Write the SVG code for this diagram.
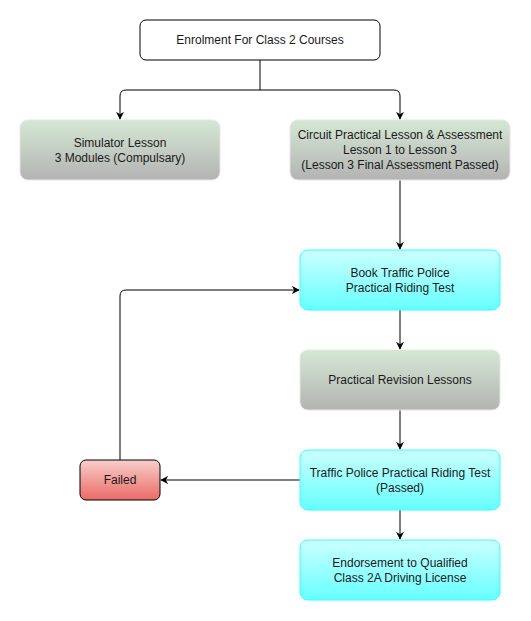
<svg xmlns="http://www.w3.org/2000/svg" width="531" height="621" viewBox="0 0 531 621">
<style>
text{font-family:"Liberation Sans",Arial,sans-serif;font-size:12px;fill:#1a1a1a;text-anchor:middle}
.e{fill:none;stroke:#000;stroke-width:1}
.g{fill:url(#gg);stroke:#e6e6e6;stroke-width:1}
.c{fill:url(#cg);stroke:#33ffff;stroke-width:1}
</style>
<defs>
<linearGradient id="gg" x1="0" y1="0" x2="0" y2="1"><stop offset="0" stop-color="#d5e8d4"/><stop offset="1" stop-color="#b3b3b3"/></linearGradient>
<linearGradient id="cg" x1="0" y1="0" x2="0" y2="1"><stop offset="0" stop-color="#ccffff"/><stop offset="1" stop-color="#66ffff"/></linearGradient>
<linearGradient id="rg" x1="0" y1="0" x2="0" y2="1"><stop offset="0" stop-color="#f8cecc"/><stop offset="1" stop-color="#ea6b66"/></linearGradient>
<marker id="a" viewBox="0 0 10 10" refX="9" refY="5" markerWidth="8" markerHeight="8" markerUnits="userSpaceOnUse" orient="auto"><path d="M0,0 L10,5 L0,10 L3,5 Z" fill="#000"/></marker>
</defs>
<g id="connectors">
<path class="e" d="M260,60 V90 H126 Q120,90 120,96 V119" marker-end="url(#a)"/>
<path class="e" d="M260,90 H394 Q400,90 400,96 V119" marker-end="url(#a)"/>
<path class="e" d="M400,180 V249" marker-end="url(#a)"/>
<path class="e" d="M400,310 V349" marker-end="url(#a)"/>
<path class="e" d="M400,410 V449" marker-end="url(#a)"/>
<path class="e" d="M400,510 V539" marker-end="url(#a)"/>
<path class="e" d="M300,480 H161" marker-end="url(#a)"/>
<path class="e" d="M120,460 V296 Q120,290 126,290 H299" marker-end="url(#a)"/>
</g>
<g id="enrol"><rect x="140" y="20" width="240" height="40" rx="6" fill="#fff" stroke="#000"/><text x="260" y="44">Enrolment For Class 2 Courses</text></g>
<g id="simulator"><rect class="g" x="20" y="120" width="200" height="60" rx="8"/><text x="120" y="147">Simulator Lesson</text><text x="120" y="162">3 Modules (Compulsary)</text></g>
<g id="circuit"><rect class="g" x="290" y="120" width="220" height="60" rx="8"/><text x="400" y="139">Circuit Practical Lesson &amp; Assessment</text><text x="400" y="154">Lesson 1 to Lesson 3</text><text x="400" y="169">(Lesson 3 Final Assessment Passed)</text></g>
<g id="book"><rect class="c" x="300" y="250" width="200" height="60" rx="8"/><text x="400" y="277">Book Traffic Police</text><text x="400" y="292">Practical Riding Test</text></g>
<g id="revision"><rect class="g" x="300" y="350" width="200" height="60" rx="8"/><text x="400" y="384">Practical Revision Lessons</text></g>
<g id="test"><rect class="c" x="300" y="450" width="200" height="60" rx="8"/><text x="400" y="477">Traffic Police Practical Riding Test</text><text x="400" y="492">(Passed)</text></g>
<g id="endorse"><rect class="c" x="300" y="540" width="200" height="60" rx="8"/><text x="400" y="567">Endorsement to Qualified</text><text x="400" y="582">Class 2A Driving License</text></g>
<g id="failed"><rect x="80" y="460" width="80" height="40" rx="6" fill="url(#rg)" stroke="#000"/><text x="120" y="484">Failed</text></g>
</svg>
